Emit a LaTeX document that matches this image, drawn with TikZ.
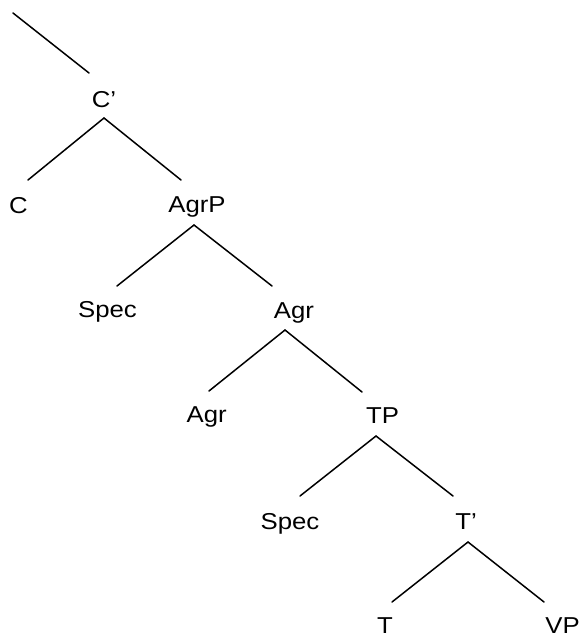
\documentclass[tikz,border=0pt]{standalone}
\usepackage{fontspec}
\setmainfont{Liberation Sans}[FakeStretch=1.12]
\usetikzlibrary{calc}

\begin{document}
\begin{tikzpicture}[x=1pt, y=-1pt, font=\fontsize{23}{27}\selectfont,
	lbl/.style={anchor=base, inner sep=0pt},
	branch/.style={line width=1.5pt, line cap=round}]
	\useasboundingbox (0,0) rectangle (581,636);
	% labels
	\node[lbl] (Cbar)  at (104,108)   {C'};
	\node[lbl] (C)     at (18.5,214)  {C};
	\node[lbl] (AgrP)  at (197,212)   {AgrP};
	\node[lbl] (SpecA) at (107.5,317) {Spec};
	\node[lbl] (AgrB)  at (294,318)   {Agr};
	\node[lbl] (AgrH)  at (206.7,422) {Agr};
	\node[lbl] (TP)    at (382.5,423) {TP};
	\node[lbl] (SpecT) at (290,529)   {Spec};
	\node[lbl] (Tbar)  at (466,529)   {T'};
	\node[lbl] (T)     at (385,633)   {T};
	\node[lbl] (VP)    at (562.5,633) {VP};
	\coordinate (top) at (13,13);
	% branches
	\draw[branch] (top) -- ($(Cbar.base)+(-15,-35)$);
	\draw[branch] ($(C.base)+(9.5,-34)$) -- ($(Cbar.base)+(0,10)$) -- ($(AgrP.base)+(-16,-32)$);
	\draw[branch] ($(SpecA.base)+(9.5,-31)$) -- ($(AgrP.base)+(-3,13)$) -- ($(AgrB.base)+(-22,-32)$);
	\draw[branch] ($(AgrH.base)+(2.3,-31)$) -- ($(AgrB.base)+(-9,12)$) -- ($(TP.base)+(-20.5,-31)$);
	\draw[branch] ($(SpecT.base)+(10,-33)$) -- ($(TP.base)+(-6.5,13)$) -- ($(Tbar.base)+(-13,-33)$);
	\draw[branch] ($(T.base)+(7,-31)$) -- ($(Tbar.base)+(2,13)$) -- ($(VP.base)+(-18.5,-31)$);
\end{tikzpicture}
\end{document}
